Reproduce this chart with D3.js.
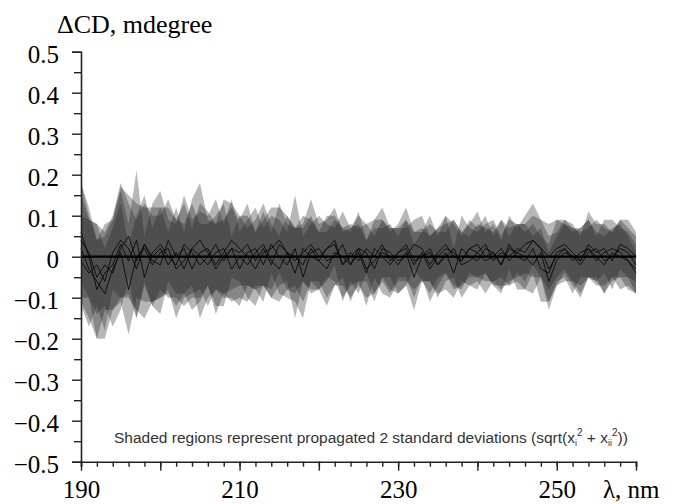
<!DOCTYPE html>
<html>
<head>
<meta charset="utf-8">
<script src="https://cdn.jsdelivr.net/npm/d3@7"></script>
<style>
  body { margin: 0; background: #fff; }
  svg { display: block; }
</style>
</head>
<body>
<div id="chart"></div>
<script>
// wavelength grid, nm
const wavelengths = d3.range(190, 261, 1);

// difference spectra (mdegree), one per comparison
const meanA = [0.04, 0.01, -0.05, -0.02, -0.04, 0.02, 0.05, -0.01, 0.03, 0.00,
  0.02, -0.02, 0.01, -0.03, 0.02, 0.04, 0.01, -0.03, 0.00, 0.02,
  0.01, 0.03, -0.01, 0.02, -0.02, 0.03, 0.01, -0.04, 0.02, 0.00,
  -0.01, 0.02, 0.04, -0.02, 0.01, -0.01, 0.02, 0.00, 0.03, -0.01,
  0.01, 0.02, -0.02, 0.01, -0.03, 0.00, 0.02, 0.01, -0.01, 0.02,
  0.03, 0.00, 0.01, -0.02, 0.02, 0.01, 0.03, 0.04, 0.02, -0.03,
  0.00, 0.02, -0.01, 0.01, 0.02, -0.01, 0.01, 0.02, 0.01, -0.01, -0.03];
const meanB = [0.06, 0.00, -0.08, -0.04, -0.02, 0.03, -0.01, 0.04, -0.05, 0.01,
  0.03, 0.00, -0.02, 0.03, 0.01, -0.02, 0.00, 0.03, -0.01, 0.02,
  -0.03, 0.01, 0.02, -0.02, 0.03, 0.00, -0.02, 0.02, -0.05, 0.01,
  0.02, -0.01, 0.00, 0.03, -0.02, 0.01, -0.04, 0.02, 0.00, -0.02,
  0.01, 0.03, -0.01, 0.00, 0.02, -0.02, 0.01, -0.04, 0.02, 0.00,
  -0.01, 0.02, 0.01, -0.02, 0.03, 0.00, -0.01, 0.02, -0.03, -0.04,
  0.01, 0.02, 0.00, -0.02, 0.01, 0.02, -0.01, 0.00, 0.02, 0.01, -0.02];
const meanC = [0.02, -0.03, -0.06, -0.09, -0.03, 0.01, -0.08, 0.00, 0.02, -0.02,
  0.01, 0.02, -0.03, -0.01, 0.02, 0.00, -0.02, 0.01, 0.02, -0.03,
  0.00, -0.02, 0.01, 0.03, -0.01, -0.03, 0.01, 0.00, -0.02, 0.02,
  -0.01, -0.03, 0.01, 0.00, -0.02, 0.02, -0.03, -0.01, 0.01, 0.00,
  -0.02, 0.01, -0.05, 0.00, 0.01, -0.02, 0.00, 0.02, -0.02, -0.01,
  0.01, -0.01, 0.00, 0.02, -0.01, 0.01, 0.00, -0.02, 0.01, -0.06,
  -0.01, 0.01, 0.00, -0.01, 0.02, 0.00, -0.02, 0.01, 0.00, -0.01, -0.04];
const meanD = [-0.01, -0.04, -0.02, -0.06, 0.01, 0.04, 0.02, -0.03, 0.03, -0.01,
  -0.02, 0.04, 0.00, 0.02, -0.03, 0.01, 0.02, -0.02, 0.01, 0.04,
  0.02, 0.00, -0.03, 0.01, 0.02, 0.04, 0.01, -0.01, 0.01, 0.03,
  0.00, 0.02, 0.03, -0.02, 0.00, 0.02, 0.01, -0.03, 0.02, 0.01,
  -0.01, 0.00, 0.03, 0.02, -0.02, 0.01, 0.03, 0.00, -0.01, 0.02,
  0.01, 0.03, -0.01, 0.01, 0.00, 0.02, 0.01, 0.04, 0.02, 0.00,
  0.02, 0.03, 0.01, -0.01, 0.03, 0.01, 0.02, -0.01, 0.03, 0.02, 0.00];

// propagated 2 standard deviations (half width of the shaded band)
const errA = [0.14, 0.11, 0.09, 0.10, 0.13, 0.15, 0.10, 0.14, 0.09, 0.12,
  0.10, 0.08, 0.11, 0.09, 0.12, 0.14, 0.08, 0.11, 0.09, 0.10,
  0.08, 0.10, 0.07, 0.09, 0.08, 0.10, 0.07, 0.11, 0.08, 0.09,
  0.07, 0.08, 0.06, 0.09, 0.07, 0.08, 0.06, 0.09, 0.09, 0.08,
  0.06, 0.07, 0.08, 0.06, 0.08, 0.07, 0.06, 0.08, 0.07, 0.06,
  0.08, 0.06, 0.07, 0.06, 0.08, 0.06, 0.07, 0.09, 0.07, 0.08,
  0.06, 0.07, 0.08, 0.06, 0.07, 0.06, 0.08, 0.07, 0.06, 0.07, 0.06];
const errB = [0.12, 0.10, 0.12, 0.09, 0.11, 0.13, 0.09, 0.17, 0.10, 0.12,
  0.13, 0.09, 0.10, 0.12, 0.08, 0.13, 0.10, 0.11, 0.09, 0.12,
  0.09, 0.08, 0.10, 0.09, 0.07, 0.09, 0.08, 0.13, 0.10, 0.07,
  0.08, 0.09, 0.07, 0.08, 0.09, 0.07, 0.08, 0.07, 0.09, 0.08,
  0.07, 0.09, 0.07, 0.06, 0.08, 0.07, 0.09, 0.06, 0.08, 0.07,
  0.07, 0.06, 0.08, 0.07, 0.06, 0.08, 0.07, 0.06, 0.08, 0.07,
  0.08, 0.06, 0.07, 0.08, 0.06, 0.07, 0.08, 0.06, 0.07, 0.06, 0.07];
const errC = [0.13, 0.12, 0.14, 0.11, 0.10, 0.12, 0.11, 0.10, 0.13, 0.09,
  0.11, 0.10, 0.12, 0.09, 0.11, 0.08, 0.10, 0.09, 0.11, 0.08,
  0.10, 0.09, 0.08, 0.10, 0.09, 0.08, 0.09, 0.07, 0.09, 0.08,
  0.07, 0.09, 0.08, 0.07, 0.08, 0.09, 0.07, 0.08, 0.06, 0.08,
  0.07, 0.08, 0.08, 0.06, 0.07, 0.08, 0.06, 0.07, 0.08, 0.06,
  0.07, 0.08, 0.06, 0.07, 0.06, 0.07, 0.08, 0.07, 0.06, 0.07,
  0.06, 0.07, 0.06, 0.08, 0.07, 0.06, 0.07, 0.06, 0.08, 0.06, 0.05];
const errD = [0.11, 0.13, 0.10, 0.12, 0.09, 0.14, 0.11, 0.12, 0.10, 0.11,
  0.12, 0.10, 0.09, 0.11, 0.10, 0.12, 0.09, 0.10, 0.13, 0.09,
  0.08, 0.10, 0.09, 0.08, 0.10, 0.08, 0.09, 0.08, 0.07, 0.11,
  0.08, 0.07, 0.09, 0.08, 0.07, 0.08, 0.07, 0.08, 0.07, 0.06,
  0.08, 0.07, 0.06, 0.08, 0.07, 0.06, 0.07, 0.08, 0.06, 0.07,
  0.06, 0.07, 0.06, 0.08, 0.07, 0.06, 0.07, 0.06, 0.07, 0.08,
  0.07, 0.06, 0.07, 0.06, 0.08, 0.07, 0.06, 0.07, 0.06, 0.07, 0.06];

const yTicks = d3.range(-0.5, 0.5001, 0.1).map(v => +v.toFixed(2));
const yMinor = d3.range(-0.45, 0.5, 0.1).map(v => +v.toFixed(2));
const xLabels = [190, 210, 230, 250];
const xMajor = d3.range(190, 261, 10);
const xMinor = d3.range(190, 261, 2);

const series = [
  { mean: meanA, err: errA },
  { mean: meanB, err: errB },
  { mean: meanC, err: errC },
  { mean: meanD, err: errD }
];

const width = 673, height = 504;
const svg = d3.select('#chart').append('svg')
  .attr('width', width).attr('height', height);

const x = d3.scaleLinear().domain([190, 260]).range([81, 636]);
const y = d3.scaleLinear().domain([-0.5, 0.5]).range([461.7, 51.7]);

const serif = "'Liberation Serif', 'Times New Roman', serif";

// shaded bands
const area = d3.area()
  .x((d, i) => x(wavelengths[i]))
  .y0(d => y(d.m - d.e))
  .y1(d => y(d.m + d.e));

series.forEach(s => {
  const pts = s.mean.map((m, i) => ({ m: m, e: s.err[i] }));
  svg.append('path')
    .datum(pts)
    .attr('d', area)
    .attr('fill', '#1e1e1e')
    .attr('fill-opacity', 0.32);
});

// spectra lines
const line = d3.line()
  .x((d, i) => x(wavelengths[i]))
  .y(d => y(d));

series.forEach(s => {
  svg.append('path')
    .datum(s.mean)
    .attr('d', line)
    .attr('fill', 'none')
    .attr('stroke', '#000')
    .attr('stroke-opacity', 0.8)
    .attr('stroke-width', 1);
});

// zero line
svg.append('line')
  .attr('x1', x(190)).attr('x2', x(260))
  .attr('y1', y(0)).attr('y2', y(0))
  .attr('stroke', '#000').attr('stroke-width', 2.2);

// y axis
const fmt = d3.format('.1f');
const yAxis = svg.append('g')
  .attr('transform', `translate(${x(190)},0)`)
  .call(d3.axisLeft(y).tickValues(yTicks).tickSize(9).tickPadding(13)
    .tickFormat(d => d === 0 ? '0' : fmt(d)));
svg.append('g')
  .attr('transform', `translate(${x(190)},0)`)
  .call(d3.axisLeft(y).tickValues(yMinor).tickSize(7).tickFormat(''))
  .select('.domain').remove();

// x axis
svg.append('g')
  .attr('transform', `translate(0,${y(-0.5)})`)
  .call(d3.axisBottom(x).tickValues(xMinor).tickSize(5).tickFormat(''));
svg.append('g')
  .attr('transform', `translate(0,${y(-0.5)})`)
  .call(d3.axisBottom(x).tickValues(xMajor).tickSize(9)
    .tickPadding(10)
    .tickFormat(d => xLabels.includes(d) ? d : ''))
  .select('.domain').remove();

svg.selectAll('.domain').attr('stroke', '#222').attr('stroke-width', 1.6);
svg.selectAll('.tick line').attr('stroke', '#222').attr('stroke-width', 1.4);
svg.selectAll('.tick text')
  .attr('font-family', serif)
  .attr('font-size', 25)
  .attr('fill', '#000');
yAxis.selectAll('.tick text').attr('dy', '0.42em');

// axis titles
svg.append('text')
  .attr('x', 57).attr('y', 33)
  .attr('font-family', serif).attr('font-size', 26)
  .text('ΔCD, mdegree');

svg.append('text')
  .attr('x', 603).attr('y', 498)
  .attr('font-family', serif).attr('font-size', 25)
  .text('λ, nm');

// note
const note = svg.append('text')
  .attr('x', 114).attr('y', 443)
  .attr('font-family', "'Liberation Sans', Arial, sans-serif")
  .attr('font-size', 15.5)
  .attr('fill', '#333');
note.append('tspan').text('Shaded regions represent propagated 2 standard deviations (sqrt(x');
note.append('tspan').attr('font-size', 9).attr('dy', 3).text('i');
note.append('tspan').attr('font-size', 10).attr('dy', -10).text('2');
note.append('tspan').attr('dy', 7).text(' + x');
note.append('tspan').attr('font-size', 9).attr('dy', 3).text('ii');
note.append('tspan').attr('font-size', 10).attr('dy', -10).text('2');
note.append('tspan').attr('dy', 7).text('))');
</script>
</body>
</html>
